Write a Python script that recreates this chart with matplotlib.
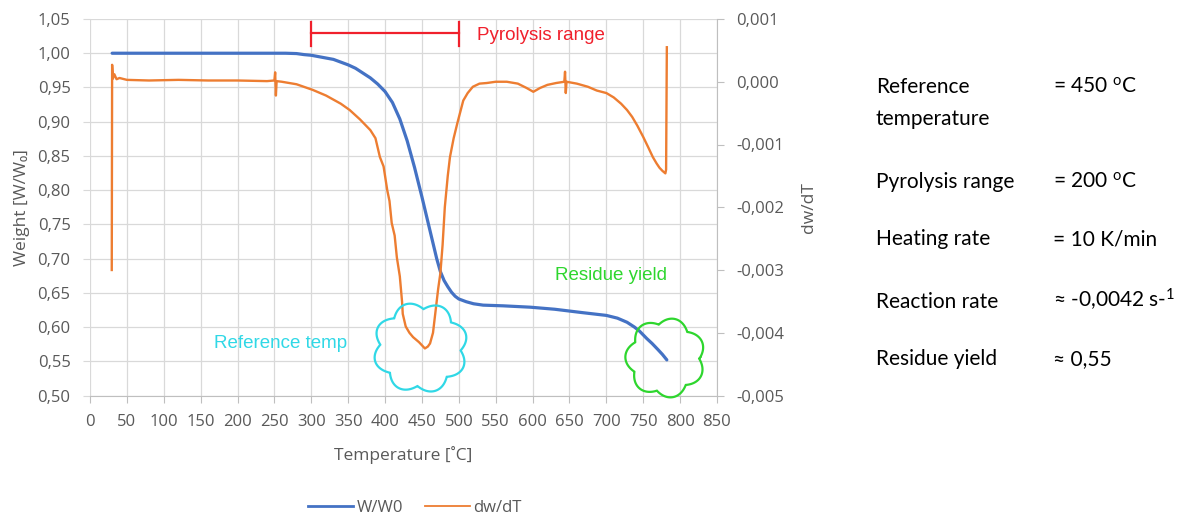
import numpy as np
import matplotlib
matplotlib.use("Agg")
import matplotlib.pyplot as plt
from matplotlib.ticker import FuncFormatter
from matplotlib.patches import Polygon
from matplotlib.lines import Line2D
from matplotlib.transforms import Affine2D, ScaledTranslation

plt.rcParams['mathtext.fontset'] = 'custom'
plt.rcParams['mathtext.rm'] = 'Lato'
plt.rcParams['mathtext.it'] = 'Lato:italic'
plt.rcParams['mathtext.bf'] = 'Lato:bold'

# ---- TGA weight curve (W/W0) ----
temp_w = [30, 100, 200, 265, 280, 290, 300, 310, 320, 330, 340, 350, 360, 370,
          380, 390, 400, 410, 420, 430, 440, 450, 460, 470, 475, 480, 485, 490,
          495, 500, 510, 520, 533, 560, 597, 630, 668, 700, 715, 728, 738, 745,
          755, 762, 770, 776, 782]
weight = [1.000, 1.000, 1.000, 1.000, 0.9995, 0.998, 0.997, 0.995, 0.993, 0.991,
          0.987, 0.983, 0.978, 0.971, 0.964, 0.955, 0.944, 0.928, 0.904, 0.872,
          0.833, 0.790, 0.745, 0.700, 0.681, 0.668, 0.659, 0.651, 0.645, 0.641,
          0.637, 0.634, 0.632, 0.631, 0.629, 0.626, 0.621, 0.617, 0.613, 0.607,
          0.600, 0.594, 0.583, 0.576, 0.567, 0.560, 0.552]

# ---- DTG curve (dw/dT) ----
temp_d = [29.5, 30, 31, 33, 36, 40, 50, 80, 120, 160, 200, 240, 250, 251, 252,
          253, 260, 280, 302, 320, 340, 352, 366, 380, 387, 393, 398, 403, 406,
          409, 413, 416, 420, 423, 424, 428, 433, 438, 446, 454, 458, 461, 465,
          468, 472, 475, 478, 481, 485, 488, 493, 498, 506, 512, 519, 528, 538,
          550, 565, 580, 592, 601, 610, 620, 632, 643, 644, 645, 646, 660, 675,
          687, 700, 710, 720, 728, 735, 742, 750, 757, 763, 768, 772, 776, 780,
          781, 782]
dwdt = [-0.00300, 0.00027, 0.00005, 0.00012, 0.00004, 0.00006, 0.00003, 0.00002,
        0.00003, 0.00002, 0.00002, 0.00001, 0.00002, 0.00015, -0.00022, 0.00001,
        0.00000, -0.00004, -0.00013, -0.00022, -0.00035, -0.00045, -0.00060,
        -0.00077, -0.00090, -0.00120, -0.00135, -0.00173, -0.00190, -0.00225,
        -0.00245, -0.00280, -0.00310, -0.00350, -0.00370, -0.00390, -0.00400,
        -0.00407, -0.00415, -0.00425, -0.00422, -0.00417, -0.00400, -0.00370,
        -0.00330, -0.00305, -0.00260, -0.00200, -0.00150, -0.00120, -0.00090,
        -0.00066, -0.00030, -0.00018, -0.00008, -0.00003, -0.00002, 0.00000,
        0.00000, -0.00003, -0.00010, -0.00016, -0.00010, -0.00005, -0.00002,
        0.00000, 0.00016, -0.00018, 0.00000, -0.00003, -0.00008, -0.00014,
        -0.00018, -0.00025, -0.00035, -0.00045, -0.00056, -0.00070, -0.00088,
        -0.00105, -0.00120, -0.00130, -0.00137, -0.00142, -0.00146, -0.00140,
        0.00055]

# ---- annotations ----
pyro_start, pyro_end = 300, 500
ref_temp = 450
residue_temp, residue_yield = 780, 0.555

x_ticks = list(range(0, 851, 50))
left_ticks = [0.50, 0.55, 0.60, 0.65, 0.70, 0.75, 0.80, 0.85, 0.90, 0.95, 1.00, 1.05]
right_ticks = [-0.005, -0.004, -0.003, -0.002, -0.001, 0.000, 0.001]

info_labels = ["Reference", "temperature", "Pyrolysis range", "Heating rate",
               "Reaction rate", "Residue yield"]
info_values = [r"= 450 $^{\mathrm{o}}$C", "", r"= 200 $^{\mathrm{o}}$C",
               "= 10 K/min", r"≈ -0,0042 s-$^{1}$", "≈ 0,55"]

BLUE = "#4472C4"
ORANGE = "#ED7D31"
GRID = "#D9D9D9"
AXC = "#BFBFBF"
TXT = "#595959"
UIF = ["Open Sans", "DejaVu Sans"]

W, H = 1178, 519
fig = plt.figure(figsize=(W / 100, H / 100), dpi=100)
ax = fig.add_axes([90 / W, 1 - 395.5 / H, 627 / W, 376.5 / H])
ax2 = ax.twinx()

ax.plot(temp_w, weight, color=BLUE, lw=2.3, solid_capstyle="round",
        solid_joinstyle="round", zorder=3)
ax2.plot(temp_d, dwdt, color=ORANGE, lw=1.7, solid_joinstyle="round", zorder=3)

ax.set_xlim(0, 850)
ax.set_ylim(0.50, 1.05)
ax2.set_ylim(-0.005, 0.001)
ax.set_xticks(x_ticks)
ax.set_yticks(left_ticks)
ax2.set_yticks(right_ticks)


def comma(fmt):
    def f(v, pos):
        if abs(v) < 1e-12:
            v = 0.0
        return format(v, fmt).replace(".", ",")
    return FuncFormatter(f)


ax.yaxis.set_major_formatter(comma(".2f"))
ax2.yaxis.set_major_formatter(comma(".3f"))

ax.grid(True, color=GRID, lw=0.9)
ax.set_axisbelow(True)
for s in ["top", "left", "right"]:
    ax.spines[s].set_visible(False)
ax.spines["bottom"].set_color(AXC)
for s in ["top", "left", "bottom"]:
    ax2.spines[s].set_visible(False)
ax2.spines["right"].set_color(AXC)

ax.tick_params(axis="x", length=5, color=AXC, pad=8, labelsize=12, labelcolor=TXT)
ax.tick_params(axis="y", length=5, color=GRID, pad=9, labelsize=12, labelcolor=TXT)
ax2.tick_params(axis="y", length=5, color=AXC, pad=9, labelsize=12, labelcolor=TXT)
for lab in ax.get_xticklabels() + ax.get_yticklabels() + ax2.get_yticklabels():
    lab.set_family(UIF)

ax.set_xlabel("Temperature [˚C]", family=UIF, fontsize=12.5, color=TXT, labelpad=12)
ax.set_ylabel("Weight [W/W₀]", family=UIF, fontsize=12.5, color=TXT, labelpad=5)
ax2.set_ylabel("dw/dT", family=UIF, fontsize=12.5, color=TXT, rotation=90, labelpad=12)

# legend
handles = [Line2D([], [], color=BLUE, lw=2.0), Line2D([], [], color=ORANGE, lw=1.3)]
leg = fig.legend(handles, ["W/W0", "dw/dT"], loc="center",
                 bbox_to_anchor=(415 / W, 1 - 508 / H), ncol=2, frameon=False,
                 handlelength=2.7, handletextpad=0.2, columnspacing=1.3,
                 prop={"family": UIF, "size": 12})
for t in leg.get_texts():
    t.set_color(TXT)

# pyrolysis range bracket
RED = "#F0202C"
ax.plot([pyro_start, pyro_end], [1.029, 1.029], color=RED, lw=1.6, clip_on=False, zorder=5)
for xx in (pyro_start, pyro_end):
    ax.plot([xx, xx], [1.011, 1.046], color=RED, lw=1.6, clip_on=False, zorder=5)
ax.text(pyro_end + 25, 1.0266, "Pyrolysis range", color=RED, fontsize=13.5,
        family="Liberation Sans", ha="left", va="center", zorder=5)

CYAN = "#30D8E6"
GREEN = "#2ED62E"
ax.text(348, 0.576, "Reference temp", color=CYAN, fontsize=13.5,
        family="Liberation Sans", ha="right", va="center", zorder=5)
ax.text(630, 0.675, "Residue yield", color=GREEN, fontsize=13.5,
        family="Liberation Sans", ha="left", va="center", zorder=5)


def cloud(cx, cy, w_px, h_px, color, n=8, k=0.18, phase=0.3):
    th = np.linspace(0, 2 * np.pi, 1441)
    r = (1 + k * np.abs(np.sin(n * th / 2 + phase))) / (1 + k)
    pts = np.column_stack([w_px / 2 * r * np.cos(th), h_px / 2 * r * np.sin(th)])
    tr = Affine2D() + ScaledTranslation(cx, cy, ax.transData)
    poly = Polygon(pts, closed=True, fill=False, edgecolor=color, lw=1.6,
                   transform=tr, zorder=6)
    fig.add_artist(poly)


cloud(ref_temp - 2, 0.570, 95, 91, CYAN)
cloud(residue_temp, residue_yield, 80, 80, GREEN, n=7, phase=0.1)

# parameter summary
label_y = [93, 125, 188, 245, 308, 365]
for lab, val, yb in zip(info_labels, info_values, label_y):
    fig.text(876 / W, 1 - yb / H, lab, family=["Lato", "DejaVu Sans"],
             fontsize=15, color="black", va="baseline", ha="left")
    if val:
        fig.text(1053 / W, 1 - yb / H, val, family=["Lato", "DejaVu Sans"],
                 fontsize=15, color="black", va="baseline", ha="left")

fig.savefig("out.png", dpi=100)
